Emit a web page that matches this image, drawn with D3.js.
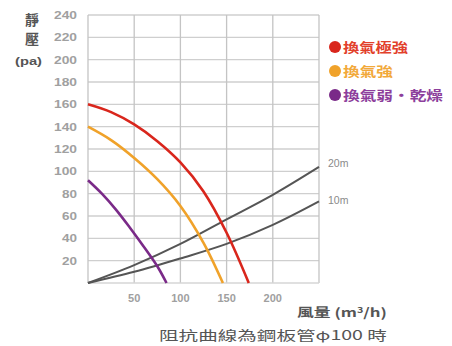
<!DOCTYPE html>
<html><head><meta charset="utf-8">
<script src="https://cdn.jsdelivr.net/npm/d3@7"></script>
<style>body{margin:0;background:#fff}svg{display:block}</style>
</head><body><svg id="c" width="452" height="346"></svg>
<script>
const yTicks = [20,40,60,80,100,120,140,160,180,200,220,240];
const xTicks = [50,100,150,200];
const fanStrong = [[0,160],[25,153],[50,142],[75,127],[100,108],[125,82],[150,45],[174,0]];
const fanMid = [[0,140],[25,128],[50,112],[75,93],[100,69],[125,36],[146,0]];
const fanWeak = [[0,92],[15,80],[30,66],[45,50],[60,33],[75,15],[85,0]];
const sys20 = [[0,0],[50,16],[100,35],[150,57],[200,79],[250,104]];
const sys10 = [[0,0],[50,10],[100,22],[150,35],[200,52],[250,73]];
const legendLabels = ["換氣極強","換氣強","換氣弱・乾燥"];
const legendColors = ["#d9261c","#f0a22a","#7a2a88"];
const legendText = ["#e2402a","#f2a93a","#8d3f9c"];
const legendWidths = [65,50,100];

const svg = d3.select("#c");
const x = d3.scaleLinear().domain([0,250]).range([88,319]);
const y = d3.scaleLinear().domain([0,240]).range([283,15]);
const font = "'Noto Sans CJK TC','Noto Sans',sans-serif";
const latin = "'Liberation Sans',Arial,sans-serif";

function fit(sel, x0, x1){
  const n = sel.node(); const b = n.getBBox();
  const s = (x1-x0)/b.width;
  sel.attr("transform",`translate(${x0},0) scale(${s},1) translate(${-b.x},0)`);
}

// grid
svg.append("g").selectAll("line").data(yTicks).join("line")
  .attr("x1",x(0)).attr("x2",x(250)).attr("y1",d=>y(d)).attr("y2",d=>y(d))
  .attr("stroke","#cfcfcf").attr("stroke-width",1.3);
svg.append("g").selectAll("line").data([0,50,100,150,200,250]).join("line")
  .attr("x1",d=>x(d)).attr("x2",d=>x(d)).attr("y1",y(0)).attr("y2",y(240))
  .attr("stroke","#c4c4c4").attr("stroke-width",1.3);
svg.append("line").attr("x1",x(0)).attr("x2",x(250)).attr("y1",y(0)).attr("y2",y(0))
  .attr("stroke","#d6d6d6").attr("stroke-width",1.3);

// y labels
svg.append("g").selectAll("text").data(yTicks).join("text")
  .attr("x",77).attr("y",d=>y(d)+4).attr("text-anchor","end")
  .attr("font-family",latin).attr("font-weight","bold")
  .attr("font-size",11).attr("fill","#a0a0a0")
  .attr("textLength",d=>d>=100?23:15).attr("lengthAdjust","spacingAndGlyphs").text(d=>d);
// x labels
svg.append("g").selectAll("text").data(xTicks).join("text")
  .attr("x",d=>x(d)).attr("y",302).attr("text-anchor","middle")
  .attr("font-family",latin).attr("font-weight","bold")
  .attr("font-size",11).attr("fill","#a0a0a0").text(d=>d);

const line = d3.line().x(d=>x(d[0])).y(d=>y(d[1])).curve(d3.curveCatmullRom);
[sys20, sys10].forEach(d=>{
  svg.append("path").attr("d",line(d)).attr("fill","none").attr("stroke","#555").attr("stroke-width",2);
});
[[fanWeak,legendColors[2]],[fanMid,legendColors[1]],[fanStrong,legendColors[0]]].forEach(([d,c])=>{
  svg.append("path").attr("d",line(d)).attr("fill","none").attr("stroke",c).attr("stroke-width",2.6);
});

// curve labels
svg.append("text").attr("x",328).attr("y",y(104)+0).attr("font-family",latin)
  .attr("font-size",10.5).attr("fill","#8a8a8a").text("20m");
svg.append("text").attr("x",328).attr("y",y(73)+3).attr("font-family",latin)
  .attr("font-size",10.5).attr("fill","#8a8a8a").text("10m");

// legend
const lg = svg.append("g").selectAll("g").data(legendLabels).join("g")
  .attr("transform",(d,i)=>`translate(335,${47+i*24})`);
lg.append("circle").attr("r",6).attr("fill",(d,i)=>legendColors[i]);
lg.append("text").attr("x",8).attr("y",5).attr("font-family",font).attr("font-size",13)
  .attr("font-weight","bold").attr("fill",(d,i)=>legendText[i])
  .attr("textLength",(d,i)=>legendWidths[i]).attr("lengthAdjust","spacingAndGlyphs").text(d=>d);

// axis titles
svg.append("text").attr("x",32).attr("y",25).attr("text-anchor","middle").attr("font-family",font)
  .attr("font-weight","bold").attr("font-size",14).attr("fill","#555").text("靜");
svg.append("text").attr("x",32).attr("y",44).attr("text-anchor","middle").attr("font-family",font)
  .attr("font-weight","bold").attr("font-size",14).attr("fill","#555").text("壓");
svg.append("text").attr("x",15).attr("y",65).attr("font-family",latin)
  .attr("font-weight","bold").attr("font-size",11).attr("fill","#555")
  .attr("textLength",27).attr("lengthAdjust","spacingAndGlyphs").text("(pa)");

const t1 = svg.append("text").attr("y",317).attr("font-family",font)
  .attr("font-weight","bold").attr("font-size",12.5).attr("fill","#555");
t1.append("tspan").text("風量 (m");
t1.append("tspan").attr("font-size",8).attr("dy",-4).text("3");
t1.append("tspan").attr("dy",4).text("/h)");
fit(t1, 297, 387);
const t2 = svg.append("text").attr("y",340).attr("font-family",font)
  .attr("font-size",13).attr("fill","#555").text("阻抗曲線為鋼板管φ100 時");
fit(t2, 159, 387);
</script></body></html>
